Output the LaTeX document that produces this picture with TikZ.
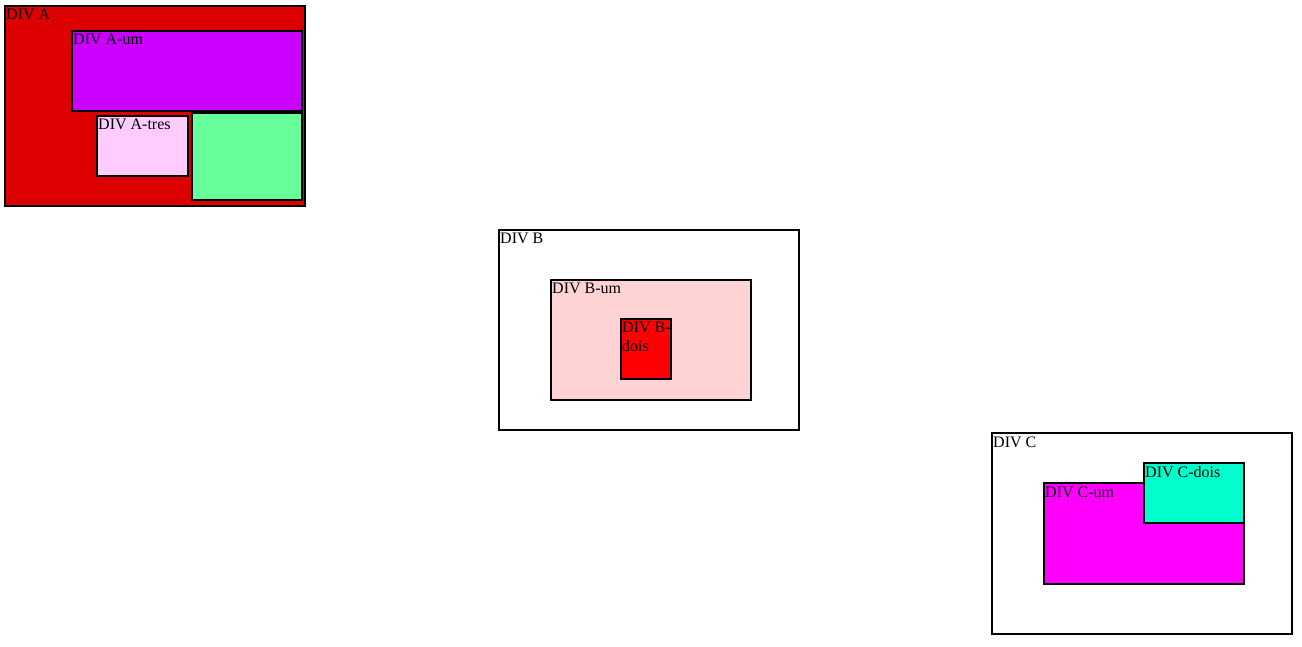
\documentclass[tikz,border=0pt]{standalone}
\usepackage{fontspec}
\setmainfont{Liberation Serif}
\definecolor{divred}{HTML}{DD0000}
\definecolor{divroxo}{HTML}{CC00FF}
\definecolor{divrosa}{HTML}{FFCCFF}
\definecolor{divverde}{HTML}{66FF99}
\definecolor{divsalmao}{HTML}{FFD3D3}
\definecolor{divvermelho}{HTML}{FF0000}
\definecolor{divmagenta}{HTML}{FF00FF}
\definecolor{divagua}{HTML}{00FFCC}
\tikzset{
  divbox/.style={draw=black,line width=2pt},
  divlbl/.style={anchor=base west,inner sep=0pt,font=\fontsize{16}{18}\selectfont}
}
\begin{document}
\begin{tikzpicture}[x=1pt,y=-1pt]
				\useasboundingbox (0,0) rectangle (1302,647);
				\draw[divbox,fill=divred] (5,6) rectangle (305,206);
				\node[divlbl] (labA) at (6,20) {DIV A};
				\draw[divbox,fill=divverde] (192,113) rectangle (302,200);
				\draw[divbox,fill=divroxo] (72,31) rectangle (302,111);
				\node[divlbl] (labAum) at (73,45) {DIV A-um};
				\draw[divbox,fill=divrosa] (97,116) rectangle (188,176);
				\node[divlbl] (labAtres) at (98,130) {DIV A-tres};
				\draw[divbox] (499,230) rectangle (799,430);
				\node[divlbl] (labB) at (500,244) {DIV B};
				\draw[divbox,fill=divsalmao] (551,280) rectangle (751,400);
				\node[divlbl] (labBum) at (552,294) {DIV B-um};
				\draw[divbox,fill=divvermelho] (621,319) rectangle (671,379);
				\node[divlbl] (labBdois) at (622,333) {DIV B-};
				\node[divlbl] (labBdois2) at (622,351) {dois};
				\draw[divbox] (992,433) rectangle (1292,634);
				\node[divlbl] (labC) at (993,447) {DIV C};
				\draw[divbox,fill=divmagenta] (1044,483) rectangle (1244,584);
				\node[divlbl] (labCum) at (1045,497) {DIV C-um};
				\draw[divbox,fill=divagua] (1144,463) rectangle (1244,523);
				\node[divlbl] (labCdois) at (1145,477) {DIV C-dois};
\end{tikzpicture}
\end{document}
